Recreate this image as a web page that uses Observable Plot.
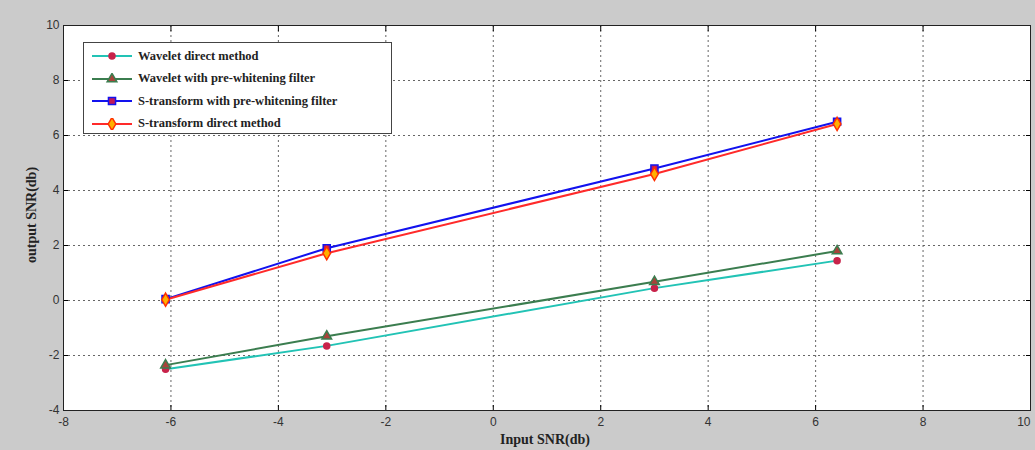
<!DOCTYPE html>
<html>
<head>
<meta charset="utf-8">
<script src="https://cdn.jsdelivr.net/npm/d3@7"></script>
<script src="https://cdn.jsdelivr.net/npm/@observablehq/plot@0.6"></script>
<style>
  html, body { margin: 0; padding: 0; background: #cbcbcb; }
  #wrap { position: relative; width: 1035px; height: 450px; overflow: hidden; }
  #legend { position: absolute; left: 83px; top: 42px; width: 309px; height: 92px; background: #fff; border: 1px solid #444; box-sizing: border-box; padding-top: 2px; }
  .row { display: flex; align-items: center; height: 22.5px; font-family: "Liberation Serif", serif; font-weight: bold; font-size: 12.5px; color: #222; }
  .row svg { margin-left: 8px; margin-right: 6px; }
</style>
</head>
<body>
<div id="wrap"><div id="legend"></div></div>
<script>
const xValues = [-6.1, -3.1, 3.0, 6.4];
const seriesNames = [
  "Wavelet direct method",
  "Wavelet with pre-whitening filter",
  "S-transform with pre-whitening filter",
  "S-transform direct method"
];
const waveletDirect = [-2.5, -1.65, 0.45, 1.45];
const waveletPre = [-2.35, -1.3, 0.68, 1.8];
const sTransformPre = [0.05, 1.9, 4.8, 6.5];
const sTransformDirect = [0.03, 1.72, 4.6, 6.42];
const xTicks = [-8, -6, -4, -2, 0, 2, 4, 6, 8, 10];
const yTicks = [-4, -2, 0, 2, 4, 6, 8, 10];

const styles = [
  {line: "#22c3b5", symbol: "circle", fill: "#c8234a", stroke: "#c8234a", r: 3},
  {line: "#3b7d4f", symbol: "triangle", fill: "#a8433a", stroke: "#3b7d4f", r: 3.6},
  {line: "#1212ee", symbol: "square", fill: "#c0185a", stroke: "#1212ee", r: 4},
  {line: "#ff2a2a", symbol: "diamond", fill: "#ffb000", stroke: "#ff3000", r: 4}
];
const allValues = [waveletDirect, waveletPre, sTransformPre, sTransformDirect];
const data = allValues.flatMap((vals, si) => vals.map((v, i) => ({series: seriesNames[si], si, x: xValues[i], y: v})));

const tickFont = "Liberation Sans Narrow, Arial Narrow, sans-serif";
const marks = [
  Plot.frame({fill: "white", stroke: "none"}),
  Plot.gridX(xTicks.slice(1, -1), {stroke: "#555", strokeOpacity: 0.9, strokeDasharray: "2,3", strokeWidth: 1}),
  Plot.gridY(yTicks.slice(1, -1), {stroke: "#555", strokeOpacity: 0.9, strokeDasharray: "2,3", strokeWidth: 1}),
  Plot.axisX(xTicks, {tickSize: -5, tickPadding: 12, fontSize: 12, fontFamily: tickFont, fill: "#333", label: null, tickFormat: d => String(d), className: "xlabels"}),
  Plot.axisX(xTicks, {anchor: "top", tickSize: -5, tickFormat: () => "", label: null}),
  Plot.axisY(yTicks, {tickSize: -5, tickPadding: 9, fontSize: 12, fontFamily: tickFont, fill: "#333", label: null, tickFormat: d => String(d)}),
  Plot.axisY(yTicks, {anchor: "right", tickSize: -5, tickFormat: () => "", label: null}),
  Plot.frame({stroke: "#222", strokeWidth: 1})
];
styles.forEach((s, si) => {
  const d = data.filter(e => e.si === si);
  marks.push(Plot.line(d, {x: "x", y: "y", stroke: s.line, strokeWidth: 2}));
});
styles.forEach((s, si) => {
  const d = data.filter(e => e.si === si);
  marks.push(Plot.dot(d, {x: "x", y: "y", symbol: () => s.symbol, r: s.r, fill: s.fill, stroke: s.stroke, strokeWidth: 1.5}));
});

const chart = Plot.plot({
  width: 1035, height: 450,
  marginLeft: 63, marginRight: 5, marginTop: 25, marginBottom: 40,
  style: {background: "transparent", overflow: "visible"},
  x: {domain: [-8, 10], label: null},
  y: {domain: [-4, 10], label: null},
  symbol: {type: "identity"},
  marks
});
const wrap = document.getElementById("wrap");
wrap.insertBefore(chart, wrap.firstChild);

const svg = d3.select(chart);
// keep the last x tick label ("10") inside the picture
svg.selectAll("text").filter(function() { return this.textContent === "10" && this.closest("g") && this.getAttribute("transform") && this.getBoundingClientRect().right > 1030; })
  .attr("text-anchor", "end");

// axis titles
svg.append("text").attr("x", 545).attr("y", 444).attr("text-anchor", "middle")
  .attr("font-family", "Liberation Serif, serif").attr("font-weight", "bold").attr("font-size", 14).attr("fill", "#222")
  .text("Input SNR(db)");
svg.append("text").attr("transform", "translate(36,215) rotate(-90)").attr("text-anchor", "middle")
  .attr("font-family", "Liberation Serif, serif").attr("font-weight", "bold").attr("font-size", 14).attr("fill", "#222")
  .text("output SNR(db)");

// legend
const legend = d3.select("#legend");
styles.forEach((s, si) => {
  const row = legend.append("div").attr("class", "row");
  const sw = row.append("svg").attr("width", 40).attr("height", 12);
  sw.append("line").attr("x1", 0).attr("x2", 40).attr("y1", 6).attr("y2", 6).attr("stroke", s.line).attr("stroke-width", 2);
  const sym = {circle: d3.symbolCircle, triangle: d3.symbolTriangle, square: d3.symbolSquare, diamond: d3.symbolDiamond}[s.symbol];
  sw.append("path").attr("transform", "translate(20,6)").attr("d", d3.symbol(sym, Math.PI * s.r * s.r)())
    .attr("fill", s.fill).attr("stroke", s.stroke).attr("stroke-width", 1.5);
  row.append("span").text(seriesNames[si]);
});
</script>
</body>
</html>
